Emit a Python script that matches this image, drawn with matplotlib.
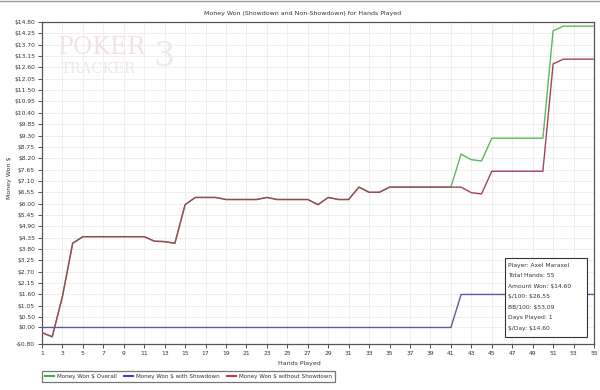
import numpy as np
import matplotlib
matplotlib.use("Agg")
import matplotlib.pyplot as plt
from matplotlib.patches import Rectangle

plt.rcParams['text.parse_math'] = False
plt.rcParams['font.family'] = ['DejaVu Sans']

# hands played 1..55
hands = list(range(1, 56))

# money won without showdown (red)
no_showdown = [-0.25, -0.45, 1.50, 4.08,
               4.40, 4.40, 4.40, 4.40, 4.40, 4.40, 4.40,
               4.18, 4.16, 4.08, 5.95,
               6.30, 6.30, 6.30,
               6.20, 6.20, 6.20, 6.20,
               6.30,
               6.20, 6.20, 6.20, 6.20,
               5.95, 6.30, 6.20, 6.20,
               6.80, 6.55, 6.55,
               6.80, 6.80, 6.80, 6.80, 6.80, 6.80, 6.80,
               6.80, 6.53, 6.47,
               7.57, 7.57, 7.57, 7.57, 7.57, 7.57,
               12.77, 13.00, 13.00, 13.00, 13.00]

# money won with showdown (blue)
showdown = [0.00] * 41 + [1.60] * 14

# money won overall (green)
overall = [-0.25, -0.45, 1.50, 4.08,
           4.40, 4.40, 4.40, 4.40, 4.40, 4.40, 4.40,
           4.18, 4.16, 4.08, 5.95,
           6.30, 6.30, 6.30,
           6.20, 6.20, 6.20, 6.20,
           6.30,
           6.20, 6.20, 6.20, 6.20,
           5.95, 6.30, 6.20, 6.20,
           6.80, 6.55, 6.55,
           6.80, 6.80, 6.80, 6.80, 6.80, 6.80, 6.80,
           8.40, 8.13, 8.07,
           9.17, 9.17, 9.17, 9.17, 9.17, 9.17,
           14.37, 14.60, 14.60, 14.60, 14.60]

y_ticks = [round(14.80 - 0.55 * i, 2) for i in range(27)] + [0.00, -0.80]
x_ticks = list(range(1, 56, 2))

stats = ["Player: Axel Maraxel",
         "Total Hands: 55",
         "Amount Won: $14.60",
         "$/100: $26.55",
         "BB/100: $53.09",
         "Days Played: 1",
         "$/Day: $14.60"]

W, H = 600, 390
fig = plt.figure(figsize=(6, 3.9), dpi=100)
ax = fig.add_axes([42 / W, 1 - 344 / H, 552 / W, 322 / H])

ax.plot(hands, overall, color='#5cb85c', lw=1.0, label='Money Won $ Overall', zorder=3)
ax.plot(hands, showdown, color='#5a5aa8', lw=1.0, label='Money Won $ with Showdown', zorder=4)
ax.plot(hands, no_showdown, color='#a3435a', lw=1.0, label='Money Won $ without Showdown', zorder=5)

ax.set_xlim(1, 55)
ax.set_ylim(-0.80, 14.80)
ax.set_xticks(x_ticks)
ax.set_yticks(y_ticks)
ax.set_yticklabels([("-$%.2f" % -v) if v < 0 else ("$%.2f" % v) for v in y_ticks])
ax.tick_params(labelsize=4.3, colors='#333333', length=3, width=0.6, pad=2)
ax.grid(True, color='#ececec', lw=0.6, zorder=0)
for s in ax.spines.values():
    s.set_color('#555555')
    s.set_linewidth(0.9)

fig.text(303 / W, 1 - 13 / H, 'Money Won (Showdown and Non-Showdown) for Hands Played',
         ha='center', va='center', fontsize=4.5, color='#333333')
fig.text(299 / W, 1 - 364 / H, 'Hands Played', ha='center', va='center',
         fontsize=4.5, color='#333333')
fig.text(10 / W, 1 - 178 / H, 'Money Won $', ha='center', va='center',
         rotation=90, fontsize=4.5, color='#333333')

# faded watermark
fig.text(58 / W, 1 - 47 / H, 'POKER', fontsize=17, family='DejaVu Serif',
         color='#f0e2e5', va='center', ha='left', zorder=1)
fig.text(61 / W, 1 - 69 / H, 'TRACKER', fontsize=10.5, family='DejaVu Serif',
         color='#ece8e8', va='center', ha='left', zorder=1)
fig.text(153 / W, 1 - 57 / H, '3', fontsize=24, family='DejaVu Serif',
         color='#e8ece8', va='center', ha='left', zorder=1)

leg = ax.legend(loc='upper left', bbox_to_anchor=(42 / W, 1 - 371 / H),
                bbox_transform=fig.transFigure, ncol=3, fontsize=4.1,
                frameon=True, fancybox=False, edgecolor='#555555',
                handlelength=1.5, handletextpad=0.6, columnspacing=1.3,
                borderpad=0.55, borderaxespad=0)
leg.get_frame().set_linewidth(0.9)
for line, c in zip(leg.get_lines(), ['#3cb43c', '#4040d0', '#c83c3c']):
    line.set_color(c)
    line.set_linewidth(1.5)
for t in leg.get_texts():
    t.set_color('#333333')

# stats box
fig.patches.append(Rectangle((505 / W, 1 - 337 / H), 82 / W, 79 / H,
                             transform=fig.transFigure, facecolor='white',
                             edgecolor='#333333', lw=0.8, zorder=10))
for i, s in enumerate(stats):
    fig.text(508 / W, 1 - (265 + i * 10.6) / H, s, fontsize=4.3,
             color='#333333', va='center', ha='left', zorder=11)

# top border line of the window
fig.add_artist(plt.Line2D([0, 1], [0.998, 0.998], color='#999999', lw=1.0))

fig.savefig('out.png', dpi=100, facecolor='white')
